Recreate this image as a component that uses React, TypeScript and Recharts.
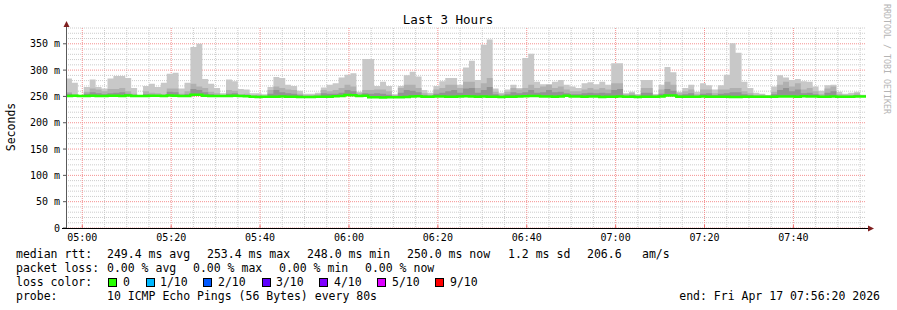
import { Area, CartesianGrid, ComposedChart, Line, XAxis, YAxis } from "recharts";

// one probe every 80 s, 3 hours ending 07:56:20
const STEP_SECONDS = 80;
const SPAN_SECONDS = 10800;

// smoke: highest ping, upper band, inner band, median (ms)
const MAX_RTT = [
	284, 276, 252, 268, 282, 268, 265, 284, 289, 289, 285, 266, 252, 270, 274, 268, 276, 293, 295, 265,
	276, 344, 350, 283, 274, 266, 256, 282, 279, 264, 263, 256, 256, 254, 268, 287, 285, 272, 270, 261,
	255, 255, 257, 267, 272, 275, 286, 291, 294, 259, 321, 321, 270, 278, 270, 254, 270, 290, 297, 288,
	262, 257, 270, 279, 285, 285, 272, 305, 318, 281, 348, 358, 265, 257, 263, 272, 266, 323, 331, 278,
	273, 273, 278, 281, 272, 269, 266, 275, 277, 273, 278, 272, 313, 313, 256, 259, 254, 281, 281, 254,
	272, 306, 296, 259, 266, 272, 259, 275, 271, 263, 271, 291, 351, 333, 278, 266, 257, 255, 252, 269,
	290, 286, 281, 283, 279, 278, 269, 261, 271, 272, 259, 255, 257, 259, 253,
];
const UPPER_RTT = [
	258, 254, 251, 259, 265, 263, 260, 264, 264, 266, 260, 255, 251, 260, 257, 256, 254, 265, 265, 255,
	260, 274, 269, 266, 259, 256, 252, 262, 261, 254, 255, 252, 253, 251, 262, 269, 266, 263, 262, 255,
	252, 252, 254, 262, 260, 262, 266, 272, 269, 256, 262, 262, 263, 263, 260, 252, 266, 272, 272, 266,
	256, 253, 263, 266, 272, 272, 266, 278, 278, 266, 275, 285, 259, 254, 259, 266, 263, 266, 272, 266,
	269, 272, 266, 269, 263, 260, 260, 263, 266, 263, 266, 263, 275, 275, 254, 256, 253, 266, 266, 253,
	263, 278, 272, 256, 260, 263, 254, 263, 263, 256, 263, 263, 266, 266, 260, 256, 253, 253, 252, 259,
	272, 278, 269, 275, 263, 266, 260, 254, 265, 269, 254, 253, 253, 256, 252,
];
const INNER_RTT = [
	255, 252, 250, 255, 258, 256, 254, 256, 257, 258, 255, 252, 250, 254, 253, 252, 251, 259, 258, 252,
	254, 264, 262, 258, 254, 252, 250, 255, 256, 251, 251, 250, 250, 250, 255, 262, 258, 256, 255, 252,
	250, 250, 251, 256, 255, 255, 257, 262, 260, 252, 256, 255, 256, 255, 253, 250, 257, 262, 261, 258,
	252, 250, 255, 257, 260, 262, 257, 265, 266, 257, 262, 268, 254, 251, 254, 258, 256, 258, 262, 257,
	258, 262, 258, 259, 256, 254, 254, 256, 257, 256, 257, 256, 262, 264, 251, 252, 250, 257, 257, 250,
	255, 264, 261, 252, 254, 256, 251, 255, 256, 252, 255, 256, 258, 258, 254, 252, 250, 250, 250, 254,
	262, 266, 260, 263, 256, 257, 254, 251, 257, 260, 251, 250, 250, 252, 250,
];
const MEDIAN_RTT = [
	251.0, 251.2, 250.8, 251.0, 251.4, 251.0, 250.8, 251.2, 251.4, 251.0, 251.6, 251.0, 250.8, 251.0, 251.2,
	251.4, 251.0, 251.6, 251.2, 250.8, 251.0, 253.4, 253.0, 251.2, 251.0, 250.8, 250.6, 251.0, 251.2, 250.8,
	250.4, 249.2, 249.0, 249.4, 249.2, 249.6, 249.8, 249.4, 249.2, 249.0, 248.8, 249.0, 249.2, 249.4, 249.6,
	250.4, 251.0, 252.6, 252.4, 250.8, 251.4, 248.4, 248.2, 248.0, 248.4, 248.6, 248.2, 248.8, 249.8, 250.2,
	249.6, 249.4, 249.8, 250.0, 249.6, 249.4, 249.8, 250.2, 250.0, 249.6, 249.8, 249.4, 249.2, 249.0, 249.4,
	249.6, 249.8, 250.2, 250.6, 250.8, 250.0, 249.8, 249.6, 250.0, 251.2, 250.0, 249.8, 249.6, 249.8, 250.0,
	248.8, 249.2, 249.6, 249.8, 249.4, 249.2, 249.0, 249.4, 249.6, 249.4, 249.8, 251.6, 251.8, 249.6, 249.4,
	249.2, 249.6, 249.8, 249.4, 249.2, 249.6, 249.4, 249.0, 248.8, 249.2, 249.4, 249.6, 249.4, 249.2, 249.6,
	249.8, 250.0, 249.8, 249.6, 250.2, 250.0, 249.8, 249.6, 249.4, 249.8, 249.6, 249.4, 249.6, 249.8, 250.0,
];

// x ticks, seconds after 04:56:20
const TICK_SECONDS = [220, 1420, 2620, 3820, 5020, 6220, 7420, 8620, 9820];
const TICK_LABELS = ["05:00", "05:20", "05:40", "06:00", "06:20", "06:40", "07:00", "07:20", "07:40"];
const MINOR_SECONDS = Array.from({ length: 36 }, (_, i) => 220 + i * 300).filter((s) => !TICK_SECONDS.includes(s));

const Y_TICKS = [0, 50, 100, 150, 200, 250, 300, 350];
const Y_MINOR = Array.from({ length: 38 }, (_, i) => (i + 1) * 10).filter((v) => v % 50 !== 0);

const LOSS_COLORS = [
	{ color: "#26ff00", label: "0", box: 108, text: 123 },
	{ color: "#00b8ff", label: "1/10", box: 146, text: 160 },
	{ color: "#0059ff", label: "2/10", box: 203, text: 218 },
	{ color: "#5e00ff", label: "3/10", box: 262, text: 276 },
	{ color: "#7e00ff", label: "4/10", box: 319, text: 334 },
	{ color: "#dd00ff", label: "5/10", box: 377, text: 392 },
	{ color: "#ff0000", label: "9/10", box: 435, text: 450 },
];

const MONO = "'DejaVu Sans Mono', monospace";

const rows = MAX_RTT.map((max, i) => ({
	t: i * STEP_SECONDS,
	max,
	upper: UPPER_RTT[i],
	inner: INNER_RTT[i],
	median: MEDIAN_RTT[i],
}));
rows.push({ ...rows[rows.length - 1], t: SPAN_SECONDS });

// grid positions through the axis scales
const xPoints = (values: number[]) => ({ xAxis, offset }: any) =>
	values.map((s) =>
		typeof xAxis?.scale === "function" ? xAxis.scale(s) : offset.left + (s / SPAN_SECONDS) * offset.width,
	);
const yPoints = (values: number[]) => ({ yAxis, offset }: any) =>
	values.map((v) =>
		typeof yAxis?.scale === "function" ? yAxis.scale(v) : offset.top + (1 - v / 380) * offset.height,
	);

function TimeTick({ x, y, payload }: any) {
	const idx = TICK_SECONDS.indexOf(payload.value);
	return (
		<g>
			<line x1={x} x2={x} y1={y} y2={y - 3} stroke="#f07070" />
			<text x={x} y={y + 13} textAnchor="middle" fontSize={10} fontFamily={MONO} fill="#000">
				{TICK_LABELS[idx]}
			</text>
		</g>
	);
}

function RttTick({ x, y, payload }: any) {
	const v = payload.value;
	return (
		<g>
			<line x1={x - 3} x2={x} y1={y} y2={y} stroke="#555" />
			<text x={x - 6} y={y + 3.5} textAnchor="end" fontSize={10} fontFamily={MONO} fill="#000">
				{v === 0 ? "0" : `${v} m`}
			</text>
		</g>
	);
}

export default function App() {
	return (
		<div style={{ position: "absolute", left: 0, top: 0, width: 897, height: 310, background: "#fff" }}>
			<ComposedChart width={897} height={310} data={rows} margin={{ top: 28, right: 31, bottom: 62, left: 6 }}>
				<CartesianGrid
					stroke="#cccccc"
					strokeDasharray="1 1"
					verticalCoordinatesGenerator={xPoints(MINOR_SECONDS)}
					horizontalCoordinatesGenerator={yPoints(Y_MINOR)}
				/>
				<CartesianGrid
					stroke="#f49090"
					strokeDasharray="1 1"
					verticalCoordinatesGenerator={xPoints(TICK_SECONDS)}
					horizontalCoordinatesGenerator={yPoints(Y_TICKS)}
				/>
				<XAxis
					type="number"
					dataKey="t"
					domain={[0, SPAN_SECONDS]}
					ticks={TICK_SECONDS}
					interval={0}
					height={20}
					tickSize={0}
					tickMargin={0}
					axisLine={false}
					tick={TimeTick}
				/>
				<YAxis
					type="number"
					domain={[0, 380]}
					ticks={Y_TICKS}
					interval={0}
					width={60}
					tickSize={0}
					tickMargin={0}
					axisLine={false}
					tick={RttTick}
				/>
				<Area
					type="stepAfter"
					dataKey={(d: any) => [d.median, d.max]}
					fill="#c8c8c8"
					fillOpacity={1}
					stroke="none"
					isAnimationActive={false}
				/>
				<Area
					type="stepAfter"
					dataKey={(d: any) => [d.median, d.upper]}
					fill="#b0b0b0"
					fillOpacity={1}
					stroke="none"
					isAnimationActive={false}
				/>
				<Area
					type="stepAfter"
					dataKey={(d: any) => [d.median, d.inner]}
					fill="#939393"
					fillOpacity={1}
					stroke="none"
					isAnimationActive={false}
				/>
				<Line
					type="stepAfter"
					dataKey="median"
					stroke="#26ff00"
					strokeWidth={2.5}
					dot={false}
					isAnimationActive={false}
				/>
			</ComposedChart>
			<svg
				width={897}
				height={310}
				style={{ position: "absolute", left: 0, top: 0, pointerEvents: "none" }}
				fontFamily={MONO}
			>
				<text x={448} y={24} textAnchor="middle" fontSize={12.5} fill="#000">
					Last 3 Hours
				</text>
				<text x={15} y={127} textAnchor="middle" fontSize={11.5} fill="#000" transform="rotate(-90 15 127)">
					Seconds
				</text>
				<text
					x={4}
					y={-884}
					fontSize={8.5}
					fill="#b4b4b4"
					transform="rotate(90)"
					textLength={110}
					lengthAdjust="spacingAndGlyphs"
				>
					RRDTOOL / TOBI OETIKER
				</text>
				<line x1={66.5} x2={66.5} y1={26} y2={229} stroke="#5a5a5a" />
				<line x1={62} x2={869} y1={228.5} y2={228.5} stroke="#000" />
				<polygon points="63.5,27 69.5,27 66.5,21" fill="#7f1f1f" />
				<polygon points="868,225.5 868,231.5 874,228.5" fill="#7f1f1f" />

				<g fontSize={11.5} fill="#000">
					<text x={16} y={258}>median rtt:</text>
					<text x={107} y={258}>249.4 ms avg</text>
					<text x={207} y={258}>253.4 ms max</text>
					<text x={307} y={258}>248.0 ms min</text>
					<text x={407} y={258}>250.0 ms now</text>
					<text x={508} y={258}>1.2 ms sd</text>
					<text x={587} y={258}>206.6</text>
					<text x={642} y={258}>am/s</text>

					<text x={16} y={272}>packet loss:</text>
					<text x={107} y={272}>0.00 % avg</text>
					<text x={193} y={272}>0.00 % max</text>
					<text x={279} y={272}>0.00 % min</text>
					<text x={365} y={272}>0.00 % now</text>

					<text x={16} y={286}>loss color:</text>
					{LOSS_COLORS.map((c) => (
						<g key={c.label}>
							<rect x={c.box + 0.5} y={278.5} width={8} height={8} fill={c.color} stroke="#000" />
							<text x={c.text} y={286}>
								{c.label}
							</text>
						</g>
					))}

					<text x={16} y={300}>probe:</text>
					<text x={107} y={300}>10 ICMP Echo Pings (56 Bytes) every 80s</text>
					<text x={880} y={300} textAnchor="end">
						end: Fri Apr 17 07:56:20 2026
					</text>
				</g>
			</svg>
		</div>
	);
}
